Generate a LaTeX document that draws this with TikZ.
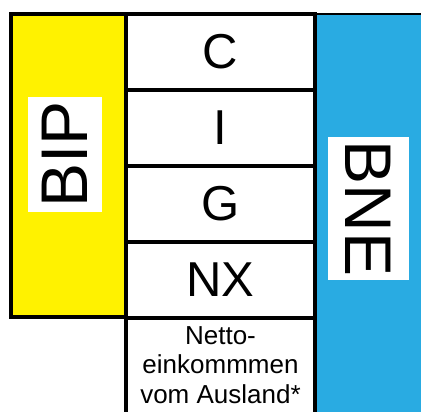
\documentclass[tikz,border=0pt]{standalone}
\usepackage{fontspec}
\setmainfont{Liberation Sans}
\usepackage{xcolor}
\usetikzlibrary{positioning}
\definecolor{bneblue}{RGB}{41,171,226}

\begin{document}
\begin{tikzpicture}
  [
    x=1pt, y=-1pt,
    part/.style={
       draw=black,
       line width=3.5pt,
       outer sep=0pt,
       inner sep=0pt,
       minimum width=189pt,
       minimum height=76pt,
       font=\fontsize{49}{52}\selectfont
    },
    tag/.style={
       fill=white,
       inner sep=0pt,
       font=\fontsize{66}{70}\selectfont
    }
  ]
  \useasboundingbox (0,0) rectangle (421,412);

  % BNE column
  \fill [bneblue] (315,14) rectangle (421,412);
  \draw [line width=2.5pt] (315,14) -- (421,14);

  % BIP column
  \node (bip) at (68.5,165.5) [draw=black, fill=yellow, line width=4.5pt,
        minimum width=115pt, minimum height=303pt] {};

  % components
  \node (c)  at (220.5,52)        [part] {C};
  \node (i)  [part, below=0pt of c] {I};
  \node (g)  [part, below=0pt of i] {G};
  \node (nx) [part, below=0pt of g] {NX};

  \coordinate (nl) at (126,412);
  \coordinate (nr) at (315,412);
  \draw [line width=3.5pt] (nx.south west) -- (nl);
  \draw [line width=3.5pt] (c.north east) -- (nr);

  \node (netto) at (220.5,365) [align=center, inner sep=0pt,
        font=\fontsize{26}{29.5}\selectfont] {Netto-\\einkommmen\\vom Ausland*};

  % labels
  \node (biptag) at (65,154.5) [tag, rotate=90,
        minimum width=115pt, minimum height=74pt] {BIP};
  \node (bnetag) at (368.5,208.5) [tag, rotate=-90,
        minimum width=143pt, minimum height=81pt] {BNE};
\end{tikzpicture}
\end{document}
